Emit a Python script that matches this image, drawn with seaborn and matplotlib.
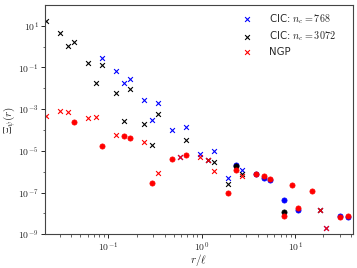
import numpy as np
import pandas as pd
import seaborn as sns
import matplotlib.pyplot as plt
from matplotlib.ticker import FuncFormatter, FixedLocator, NullFormatter

# separation r/l, shared by all three estimators
r = [0.0213, 0.0303, 0.0372, 0.0428, 0.0604, 0.0736, 0.0853, 0.1205, 0.147, 0.171,
     0.241, 0.295, 0.340, 0.481, 0.590, 0.684, 0.966, 1.178, 1.365, 1.928,
     2.35, 2.72, 3.85, 4.69, 5.43, 7.67, 9.35, 10.84, 15.3, 18.7,
     21.6, 30.5, 37.2]

nan = np.nan
# signed values: negative ones are drawn as |value| with a dot
cic_768 = [nan, nan, nan, nan, nan, nan, 0.269, 0.0676, 0.0174, 0.0269,
           2.75e-3, 2.88e-4, 2.04e-3, 1.0e-4, 5.0e-6, 1.45e-4, 7.4e-6, 3.8e-6, 9.8e-6, 5.0e-7,
           -2.0e-6, 1.26e-6, -7.6e-7, -5.0e-7, -4.0e-7, -4.4e-8, nan, -1.48e-8, nan, 1.45e-8,
           2.1e-9, -7.4e-9, -6.9e-9]
cic_3072 = [17.0, 4.37, 1.12, 1.69, 0.168, 0.018, 0.130, 6.0e-3, 2.63e-4, 8.9e-3,
            2.0e-4, 1.9e-5, 6.0e-4, nan, nan, 3.3e-5, nan, 3.8e-6, 3.0e-6, 2.5e-7,
            -1.82e-6, 8.1e-7, nan, nan, nan, -1.2e-8, nan, nan, nan, 1.45e-8,
            nan, nan, nan]
ngp = [4.6e-4, 8.5e-4, 6.9e-4, -2.3e-4, 3.7e-4, 4.0e-4, -1.7e-5, 5.6e-5, -5.1e-5, -4.0e-5,
       2.75e-5, -2.8e-7, 8.5e-7, -3.9e-6, 5.0e-6, -6.6e-6, 4.8e-6, 3.8e-6, 1.12e-6, -9.3e-8,
       -1.26e-6, 5.9e-7, -7.6e-7, -6.0e-7, -4.3e-7, -7.4e-9, -2.3e-7, -1.86e-8, -1.17e-7, 1.45e-8,
       2.1e-9, -6.8e-9, -7.8e-9]

labels = [r"CIC: $n_c = 768$", r"CIC: $n_c = 3072$", "NGP"]
colors = ["blue", "black", "red"]
y_major = [1e-9, 1e-7, 1e-5, 1e-3, 1e-1, 1e1]

sns.set_style("ticks")
plt.rcParams["mathtext.fontset"] = "cm"
plt.rcParams["font.family"] = ["DejaVu Sans"]

fig, ax = plt.subplots(figsize=(3.57, 2.68), dpi=100)
fig.subplots_adjust(left=0.125, right=0.988, bottom=0.126, top=0.982)

for vals, lab, col in zip([cic_768, cic_3072, ngp], labels, colors):
    df = pd.DataFrame({"r": r, "xi": vals}).dropna()
    pos = df[df.xi > 0]
    neg = df[df.xi < 0].assign(xi=lambda d: -d.xi)
    sns.scatterplot(data=pos, x="r", y="xi", marker="x", color=col, s=12,
                    linewidth=0.8, label=lab, ax=ax, legend=False)
    sns.scatterplot(data=neg, x="r", y="xi", marker="o", color=col, s=14,
                    edgecolor=col, linewidth=0.5, ax=ax, legend=False)

ax.set_xscale("log")
ax.set_yscale("log")
ax.set_xlim(0.0207, 41.5)
ax.set_ylim(1e-9, 1e2)
ax.yaxis.set_major_locator(FixedLocator(y_major))
ax.yaxis.set_minor_locator(FixedLocator([1e-8, 1e-6, 1e-4, 1e-2, 1e0]))
fmt = FuncFormatter(lambda v, p: r"$10^{%d}$" % round(np.log10(v)))
ax.xaxis.set_major_formatter(fmt)
ax.yaxis.set_major_formatter(fmt)
ax.yaxis.set_minor_formatter(NullFormatter())
ax.tick_params(labelsize=7, length=3, width=0.7, pad=1.2)
ax.tick_params(which="minor", length=1.8, width=0.5)
for sp in ax.spines.values():
    sp.set_linewidth(0.8)
    sp.set_color("#444444")

ax.set_xlabel(r"$r/\ell$", fontsize=8, va="center")
ax.set_ylabel(r"$\Xi_\psi(r)$", fontsize=8, va="center")
ax.xaxis.set_label_coords(0.5, -0.113)
ax.yaxis.set_label_coords(-0.115, 0.5)

ax.legend(loc="upper right", bbox_to_anchor=(0.965, 0.995), frameon=False,
          fontsize=7.3, handletextpad=1.2, labelspacing=0.35, borderaxespad=0.2)

fig.savefig("out.png", dpi=100)
